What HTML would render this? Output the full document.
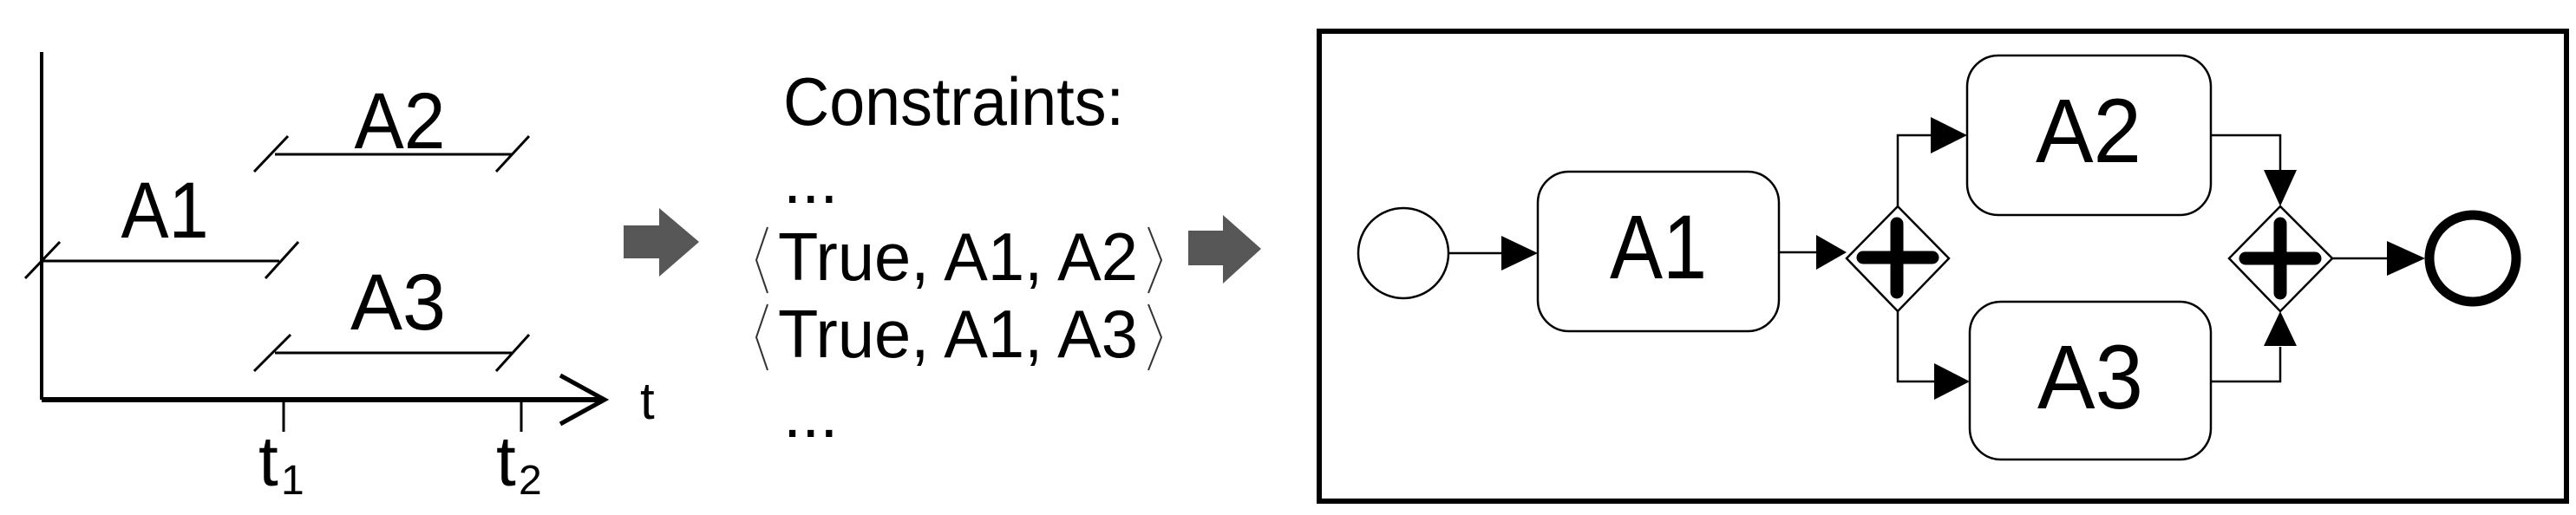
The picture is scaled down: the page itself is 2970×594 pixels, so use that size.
<!DOCTYPE html>
<html><head><meta charset="utf-8"><style>html,body{margin:0;padding:0;background:#fff}svg{display:block}</style></head>
<body>
<svg width="2970" height="594" viewBox="0 0 2970 594" xmlns="http://www.w3.org/2000/svg" font-family="'Liberation Sans', Arial, sans-serif">
<rect width="2970" height="594" fill="#fff"/>
<!-- timeline -->
<g stroke="#000" fill="none">
<line x1="48" y1="60" x2="48" y2="461" stroke-width="4"/>
<line x1="48" y1="461" x2="695" y2="461" stroke-width="6"/>
<polyline points="646,433 697,461 646,489" stroke-width="5"/>
<line x1="327" y1="461" x2="327" y2="498" stroke-width="3"/>
<line x1="601" y1="461" x2="601" y2="498" stroke-width="3"/>
<g stroke-width="3">
<line x1="317" y1="178" x2="590" y2="178"/>
<line x1="332" y1="157" x2="293" y2="198"/>
<line x1="610" y1="157" x2="572" y2="198"/>
<line x1="48" y1="301" x2="322" y2="301"/>
<line x1="69" y1="279" x2="29" y2="321"/>
<line x1="344" y1="279" x2="306" y2="321"/>
<line x1="317" y1="407" x2="590" y2="407"/>
<line x1="335" y1="386" x2="293" y2="428"/>
<line x1="610" y1="386" x2="572" y2="428"/>
</g>
</g>
<g fill="#000">
<text x="461" y="171" font-size="92" text-anchor="middle" textLength="105" lengthAdjust="spacingAndGlyphs">A2</text>
<text x="190" y="274" font-size="92" text-anchor="middle" textLength="101" lengthAdjust="spacingAndGlyphs">A1</text>
<text x="459" y="380" font-size="92" text-anchor="middle" textLength="110" lengthAdjust="spacingAndGlyphs">A3</text>
<text x="738" y="483" font-size="60">t</text>
<text x="298" y="560" font-size="82">t</text>
<text x="324" y="570" font-size="48">1</text>
<text x="572" y="560" font-size="82">t</text>
<text x="598" y="570" font-size="48">2</text>
<text x="903" y="144" font-size="78" textLength="393" lengthAdjust="spacingAndGlyphs">Constraints:</text>
<text x="903" y="234" font-size="76">...</text>
<text x="897" y="323" font-size="78" textLength="415" lengthAdjust="spacingAndGlyphs">True, A1, A2</text>
<text x="897" y="412" font-size="78" textLength="415" lengthAdjust="spacingAndGlyphs">True, A1, A3</text>
<text x="903" y="504" font-size="76">...</text>
</g>
<g stroke="#333" stroke-width="2" fill="none">
<polyline points="885,262 872,300 885,338"/>
<polyline points="1324,262 1339,300 1324,338"/>
<polyline points="885,351 872,389 885,427"/>
<polyline points="1324,351 1339,389 1324,427"/>
</g>
<!-- grey arrows -->
<polygon points="719,260 760,260 760,240 806,279 760,319 760,298 719,298" fill="#575757"/>
<polygon points="1370,266 1410,266 1410,248 1454,287 1410,327 1410,306 1370,306" fill="#575757"/>
<!-- right panel -->
<rect x="1521" y="36" width="1438" height="542" fill="none" stroke="#000" stroke-width="6"/>
<g stroke="#000" stroke-width="2.5" fill="none">
<ellipse cx="1618" cy="292" rx="52" ry="52"/>
<line x1="1670" y1="292" x2="1740" y2="292"/>
<rect x="1773" y="198" width="278" height="184" rx="36"/>
<line x1="2051" y1="291" x2="2100" y2="291"/>
<rect x="2268" y="64" width="281" height="184" rx="36"/>
<rect x="2271" y="348" width="278" height="182" rx="36"/>
<polyline points="2188,238 2188,156 2232,156"/>
<polyline points="2188,359 2188,440 2235,440"/>
<polygon points="2129,298 2188,238 2247,298 2188,359"/>
<polygon points="2570,298 2629,238 2689,298 2629,359"/>
<polyline points="2549,156 2629,156 2629,200"/>
<polyline points="2549,440 2629,440 2629,400"/>
<line x1="2689" y1="298" x2="2760" y2="298"/>
</g>
<circle cx="2851" cy="298" r="50" fill="none" stroke="#000" stroke-width="11"/>
<g fill="#000">
<polygon points="1731,272 1773,292 1731,312"/>
<polygon points="2094,271 2129,291 2094,311"/>
<polygon points="2226,135 2268,156 2226,177"/>
<polygon points="2230,419 2271,440 2230,461"/>
<polygon points="2610,196 2648,196 2629,238"/>
<polygon points="2610,399 2648,399 2629,359"/>
<polygon points="2752,278 2796,298 2752,318"/>
<text x="1912" y="321" font-size="105" text-anchor="middle" textLength="112" lengthAdjust="spacingAndGlyphs">A1</text>
<text x="2408" y="187" font-size="105" text-anchor="middle" textLength="122" lengthAdjust="spacingAndGlyphs">A2</text>
<text x="2410" y="471" font-size="105" text-anchor="middle" textLength="122" lengthAdjust="spacingAndGlyphs">A3</text>
</g>
<g stroke="#000" stroke-width="15" stroke-linecap="round">
<line x1="2148" y1="297" x2="2228" y2="297"/>
<line x1="2187" y1="258" x2="2187" y2="337"/>
<line x1="2589" y1="298" x2="2669" y2="298"/>
<line x1="2629" y1="258" x2="2629" y2="338"/>
</g>
</svg>
</body></html>
